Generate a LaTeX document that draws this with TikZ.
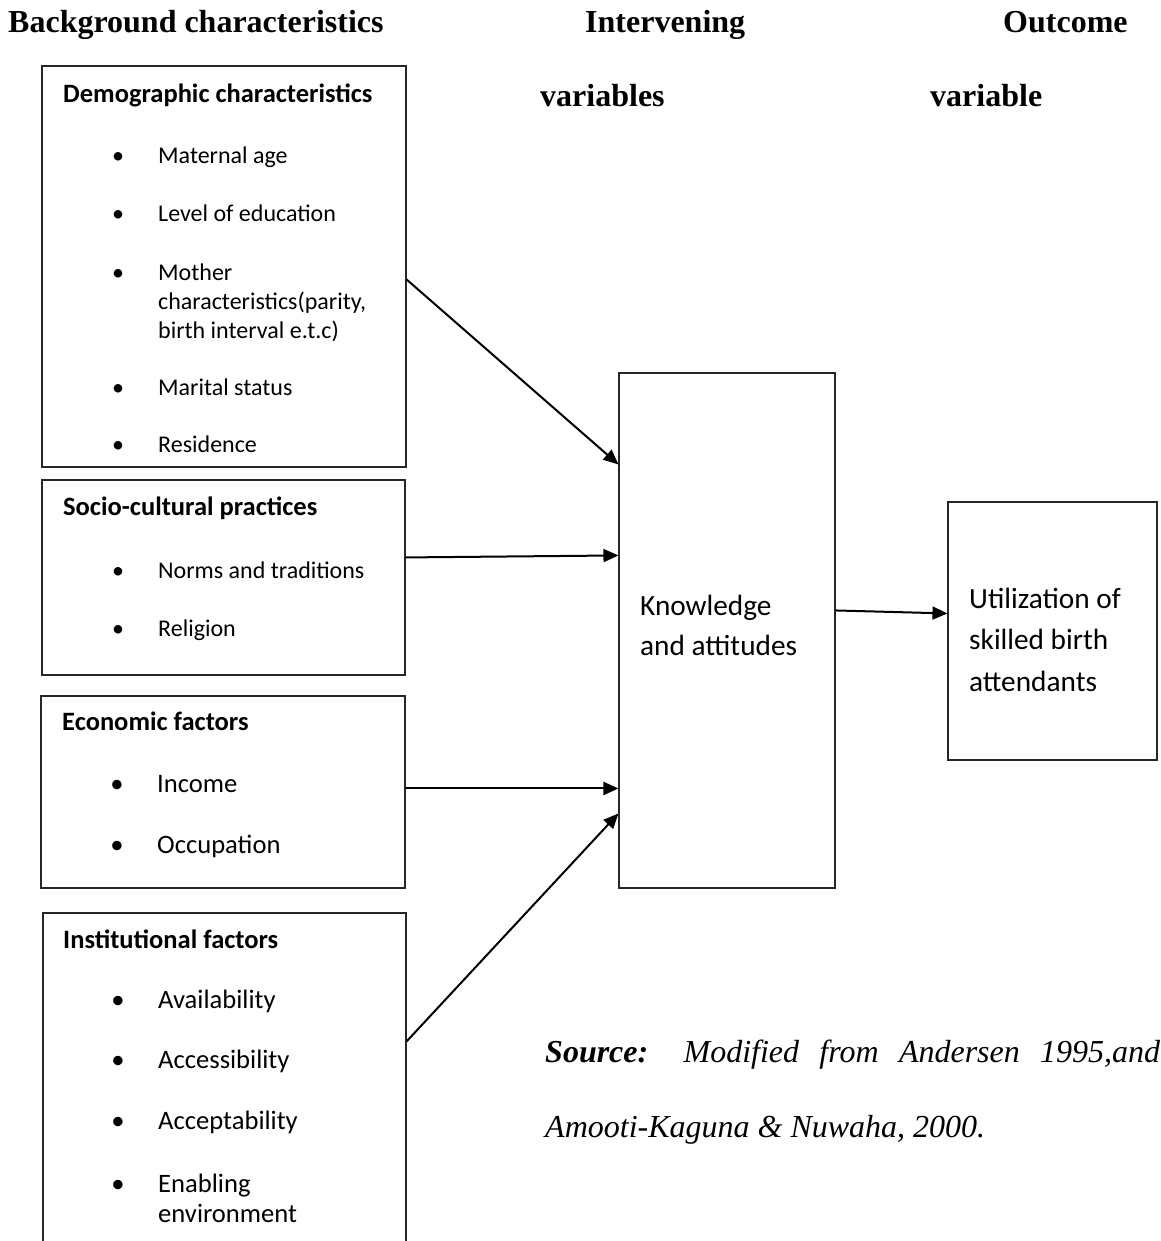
\documentclass[tikz,border=0pt]{standalone}
\usepackage{fontspec}
\setmainfont{Liberation Serif}
\newfontfamily\calibri{Carlito}
\usetikzlibrary{arrows.meta}
\begin{document}
\begin{tikzpicture}[x=1pt,y=-1pt,
  box/.style={draw=black!85, line width=1.1pt, inner sep=0pt},
  bt/.style={font=\calibri\fontsize{24}{28}\selectfont, anchor=base west, inner sep=0pt},
  btl/.style={font=\calibri\fontsize{26.6}{30}\selectfont, anchor=base west, inner sep=0pt},
  btx/.style={font=\calibri\fontsize{29.3}{34}\selectfont, anchor=base west, inner sep=0pt},
  bh/.style={font=\calibri\bfseries\fontsize{26.5}{30}\selectfont, anchor=base west, inner sep=0pt},
  bul/.style={font=\calibri\fontsize{24}{28}\selectfont, anchor=base, inner sep=0pt},
  bull/.style={font=\calibri\fontsize{26.6}{30}\selectfont, anchor=base, inner sep=0pt},
  hd/.style={font=\bfseries\fontsize{32}{38}\selectfont, anchor=base west, inner sep=0pt},
  src/.style={font=\itshape\fontsize{32}{38}\selectfont, anchor=base west, inner sep=0pt},
  arr/.style={line width=2pt, -{Triangle[length=15pt,width=13pt]}}]
\useasboundingbox (0,0) rectangle (1160,1241);
\clip (0,0) rectangle (1160,1241);
\fill[white] (0,0) rectangle (1160,1241);

% column headings
\node[hd] (h1) at (8,33) {Background characteristics};
\node[hd] (h2) at (585,33) {Intervening};
\node[hd] (h3) at (540,107) {variables};
\node[hd] (h4) at (1003,33) {Outcome};
\node[hd] (h5) at (930,107) {variable};

% boxes
\node[box, minimum width=364pt, minimum height=401pt] (demo) at (224,266.5) {};
\node[box, minimum width=363pt, minimum height=195pt] (soc) at (223.5,577.5) {};
\node[box, minimum width=364pt, minimum height=192pt] (eco) at (223,792) {};
\node[box, minimum width=363pt, minimum height=387pt] (inst) at (224.5,1106.5) {};
\node[box, minimum width=216pt, minimum height=515pt] (know) at (727,630.5) {};
\node[box, minimum width=209pt, minimum height=258pt] (util) at (1052.5,631) {};

% demographic
\node[bh] (d0) at (63,103) {Demographic characteristics};
\node[bul] (d1b) at (118,164) {•};
\node[bt] (d1) at (158,164) {Maternal age};
\node[bul] (d2b) at (118,222) {•};
\node[bt] (d2) at (158,222) {Level of education};
\node[bul] (d3b) at (118,280) {•};
\node[bt] (d3) at (158,280) {Mother};
\node[bt] (d3x) at (158,309) {characteristics(parity,};
\node[bt] (d3y) at (158,338) {birth interval e.t.c)};
\node[bul] (d4b) at (118,395) {•};
\node[bt] (d4) at (158,395) {Marital status};
\node[bul] (d5b) at (118,452) {•};
\node[bt] (d5) at (158,452) {Residence};

% socio-cultural
\node[bh] (s0) at (63,515) {Socio-cultural practices};
\node[bul] (s1b) at (118,578) {•};
\node[bt] (s1) at (158,578) {Norms and traditions};
\node[bul] (s2b) at (118,636) {•};
\node[bt] (s2) at (158,636) {Religion};

% economic
\node[bh] (e0) at (62,730) {Economic factors};
\node[bull] (e1b) at (117,792) {•};
\node[btl] (e1) at (157,792) {Income};
\node[bull] (e2b) at (117,853) {•};
\node[btl] (e2) at (157,853) {Occupation};

% institutional
\node[bh] (i0) at (63,948) {Institutional factors};
\node[bull] (i1b) at (118,1008) {•};
\node[btl] (i1) at (158,1008) {Availability};
\node[bull] (i2b) at (118,1068) {•};
\node[btl] (i2) at (158,1068) {Accessibility};
\node[bull] (i3b) at (118,1129) {•};
\node[btl] (i3) at (158,1129) {Acceptability};
\node[bull] (i4b) at (118,1192) {•};
\node[btl] (i4) at (158,1192) {Enabling};
\node[btl] (i4x) at (158,1222) {environment};

% middle and right texts
\node[btx] (k1) at (640,615) {Knowledge};
\node[btx] (k2) at (640,655) {and attitudes};
\node[btx] (u1) at (969,608) {Utilization of};
\node[btx] (u2) at (969,649) {skilled birth};
\node[btx] (u3) at (969,691) {attendants};

% arrows
\draw[arr] ([yshift=-214pt]demo.north east) -- ([yshift=-92pt]know.north west);
\draw[arr] ([yshift=-78pt]soc.north east) -- ([yshift=-183pt]know.north west);
\draw[arr] ([yshift=-93pt]eco.north east) -- ([yshift=-416pt]know.north west);
\draw[arr] ([yshift=-129pt]inst.north east) -- ([yshift=-441pt]know.north west);
\draw[arr] ([yshift=-238pt]know.north east) -- ([yshift=-112pt]util.north west);

% source
\node[src] (sr1) at (545,1062) {\makebox[615pt][s]{\textbf{Source:} Modified from Andersen 1995,and}};
\node[src] (sr2) at (545,1137) {Amooti-Kaguna \& Nuwaha, 2000.};
\end{tikzpicture}
\end{document}
